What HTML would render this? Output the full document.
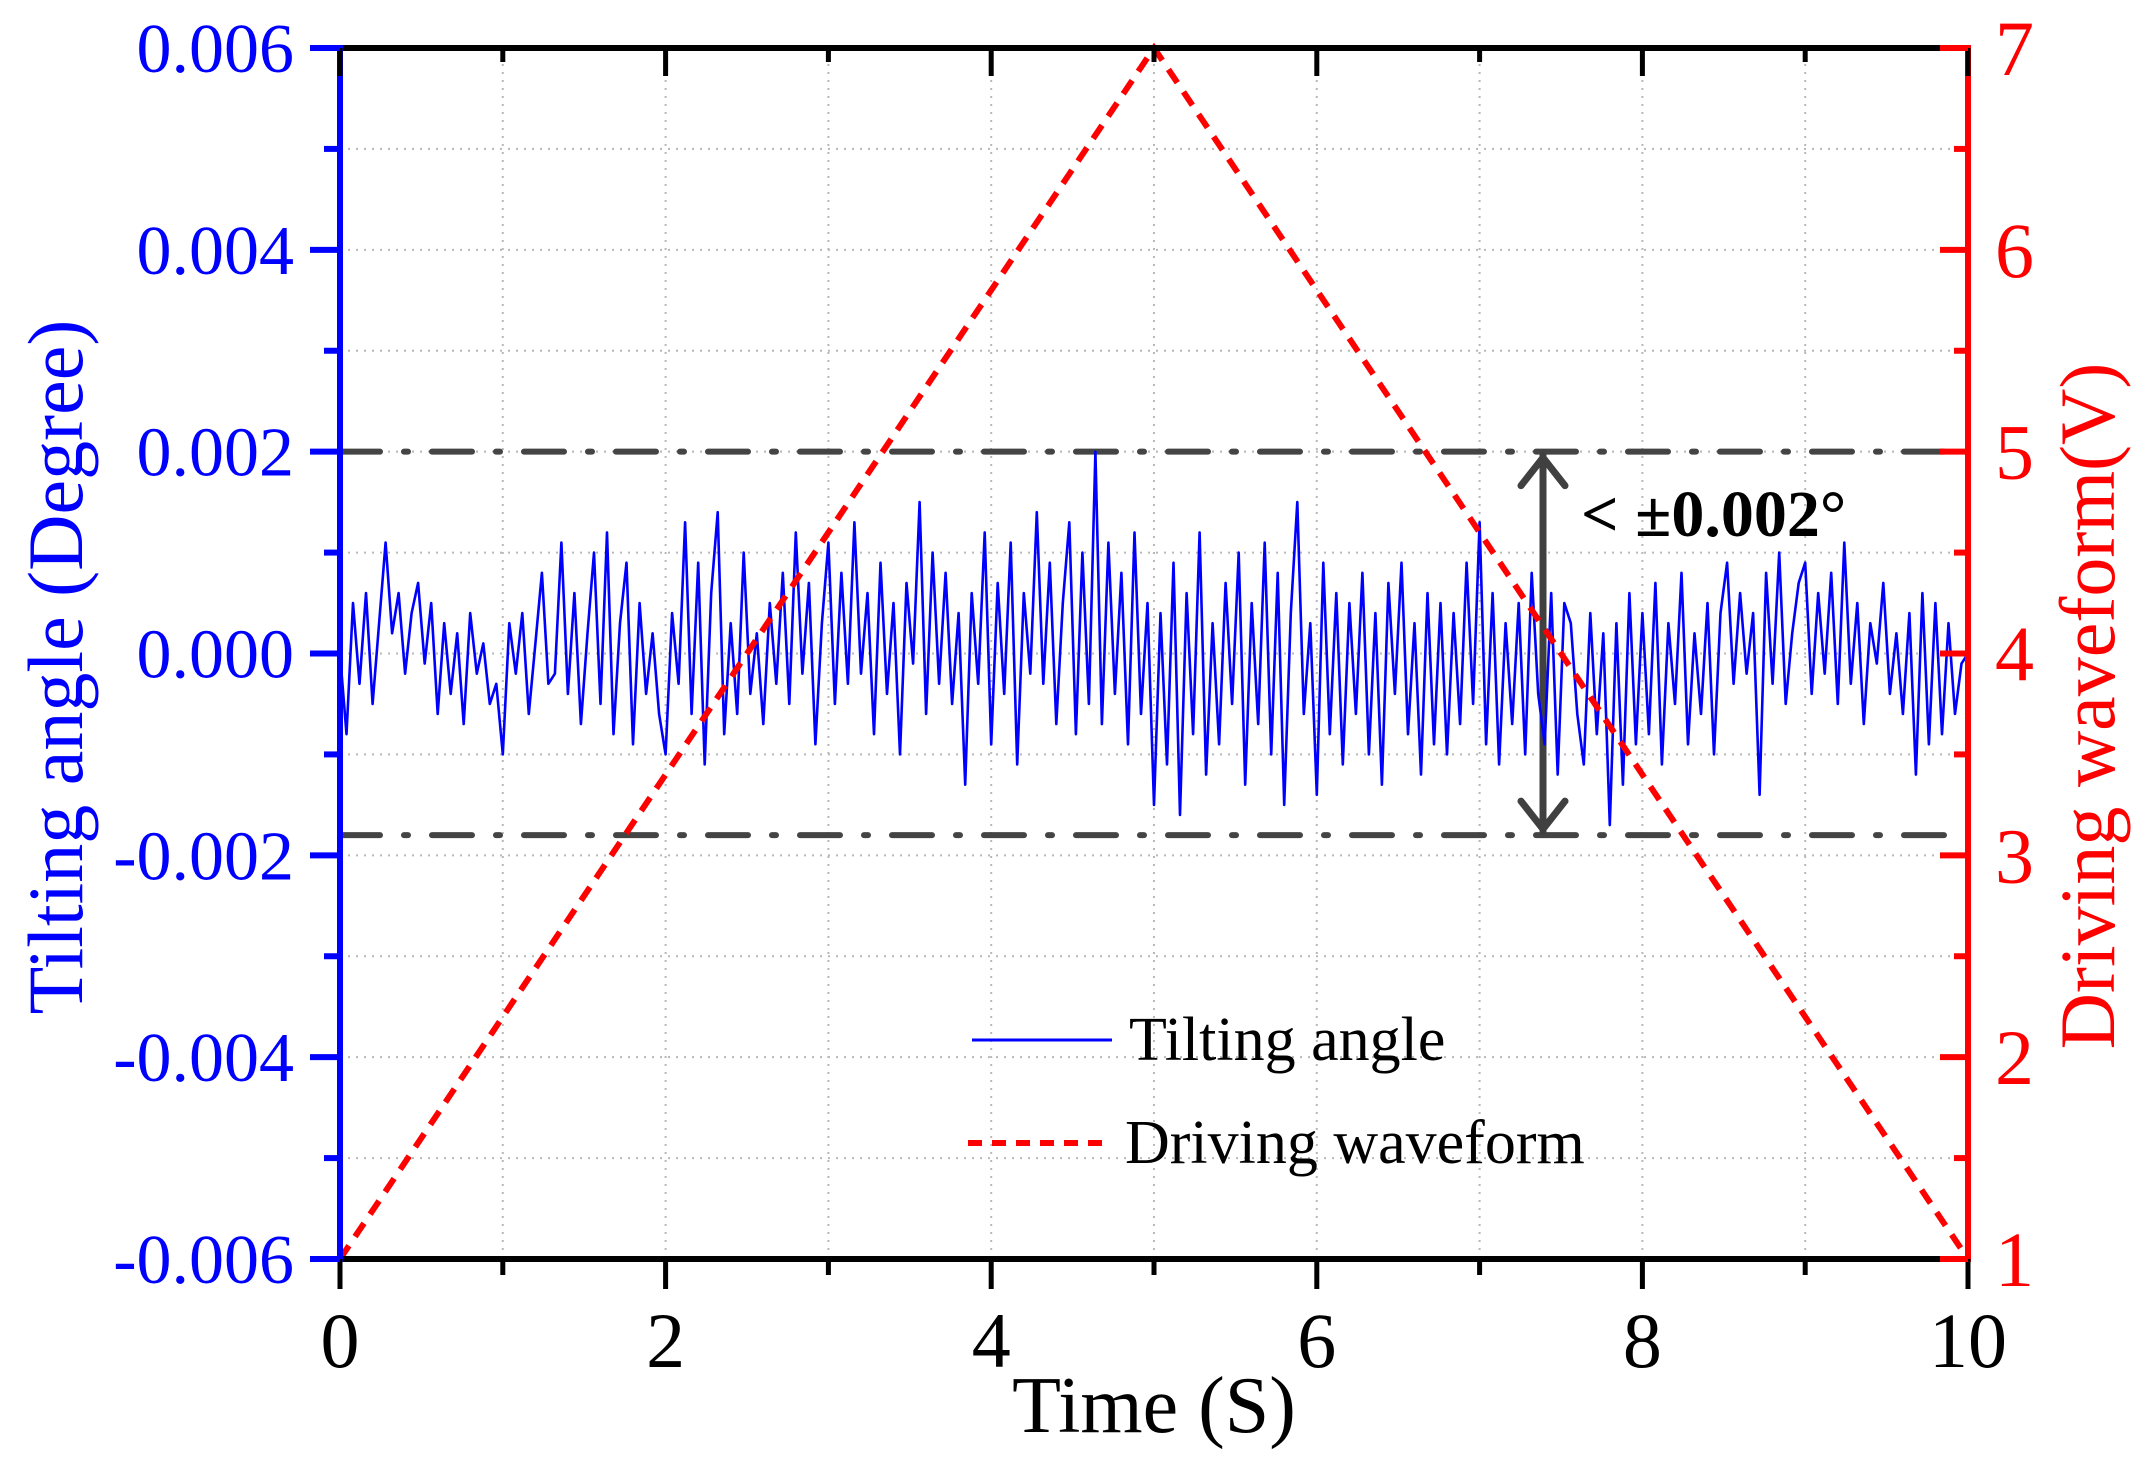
<!DOCTYPE html>
<html><head><meta charset="utf-8"><style>
html,body{margin:0;padding:0;background:#fff;}
svg{display:block;font-family:"Liberation Serif",serif;}
</style></head><body>
<svg id="chart" width="2147" height="1467" viewBox="0 0 2147 1467" xmlns="http://www.w3.org/2000/svg">
<g id="grid"></g>
<g id="guides"></g>
<g id="series"></g>
<g id="axes"></g>
<g id="labels"></g>
</svg>
<script>
const xTicks = [0, 2, 4, 6, 8, 10];
const yLeftTicks = [0.006, 0.004, 0.002, 0.000, -0.002, -0.004, -0.006];
const yLeftTickLabels = ["0.006", "0.004", "0.002", "0.000", "-0.002", "-0.004", "-0.006"];
const yRightTicks = [1, 2, 3, 4, 5, 6, 7];
const waveTimes = [0, 5, 10];
const waveVolts = [1, 7, 1];
const boundUpper = 0.002;
const boundLower = -0.0018;
const noiseStep = 0.04;
// tilting angle in units of 1e-4 degree, sampled every 0.04 s
const tiltValues = [
0,-8,5,-3,6,-5,3,11,2,6,-2,4,7,-1,5,-6,3,-4,2,-7,4,-2,1,-5,-3,
-10,3,-2,4,-6,1,8,-3,-2,11,-4,6,-7,2,10,-5,12,-8,3,9,-9,5,-4,2,-6,
-10,4,-3,13,-6,9,-11,6,14,-8,3,-6,10,-4,2,-7,5,-3,8,-5,12,-2,7,-9,3,
11,-5,8,-3,13,-2,6,-8,9,-4,5,-10,7,-1,15,-6,10,-3,8,-5,4,-13,6,-3,12,
-9,7,-4,11,-11,6,-2,14,-3,9,-7,5,13,-8,10,-5,20,-7,11,-4,8,-9,12,-6,5,
-15,4,-11,9,-16,6,-8,12,-12,3,-9,7,-5,10,-13,5,-7,11,-10,8,-15,4,15,-6,3,
-14,9,-8,6,-11,5,-6,8,-10,4,-13,7,-4,9,-8,3,-12,6,-9,5,-10,4,-7,9,-5,
13,-9,6,-11,3,-7,5,-10,8,-4,-9,6,-12,5,3,-6,-11,4,-8,2,-17,3,-13,6,-9,
4,-8,7,-11,3,-5,8,-9,2,-6,5,-10,4,9,-3,6,-2,4,-14,8,-3,10,-5,2,7,
9,-4,6,-2,8,-5,11,-3,5,-7,3,-1,7,-4,2,-6,4,-12,6,-9,5,-8,3,-6,-1,0];

const NS="http://www.w3.org/2000/svg";
const X0=340,X1=1968,Y0=48,Y1=1259;
const xS=t=>X0+(t-0)/(10-0)*(X1-X0);
const yL=v=>Y1-(v+0.006)/0.012*(Y1-Y0);
const yR=v=>Y1-(v-1)/6*(Y1-Y0);
function mk(tag,attrs,parent){const e=document.createElementNS(NS,tag);for(const k in attrs)e.setAttribute(k,attrs[k]);parent.appendChild(e);return e;}
const grid=document.getElementById('grid'),guides=document.getElementById('guides'),series=document.getElementById('series'),axes=document.getElementById('axes'),labels=document.getElementById('labels');

for(let t=1;t<10;t++){const l=mk('line',{x1:xS(t),x2:xS(t),y1:Y0,y2:Y1,stroke:'#b8b8b8','stroke-width':2,'stroke-dasharray':'2 6'},grid);

}
for(let i=-5;i<=5;i++){const v=i*0.001;const l=mk('line',{x1:X0,x2:X1,y1:yL(v),y2:yL(v),stroke:'#b8b8b8','stroke-width':2,'stroke-dasharray':'2 6'},grid);

}

[boundUpper,boundLower].forEach(v=>{const l=mk('line',{x1:X0,x2:X1,y1:yL(v),y2:yL(v),stroke:'#444','stroke-width':6,'stroke-dasharray':'40 24 4 24','stroke-linecap':'round'},guides);

});

let d='';tiltValues.forEach((v,i)=>{d+=(i?'L':'M')+xS(i*noiseStep).toFixed(1)+','+yL(v*1e-4).toFixed(1);});
const tl=mk('path',{d:d,fill:'none',stroke:'#0000ff','stroke-width':2.6,'stroke-linejoin':'round'},series);


let d2='';waveTimes.forEach((t,i)=>{d2+=(i?'L':'M')+xS(t)+','+yR(waveVolts[i]);});
const wl=mk('path',{d:d2,fill:'none',stroke:'#ff0000','stroke-width':6,'stroke-dasharray':'16 11'},series);



const ax=1543;
const ar=mk('g',{stroke:'#404040','stroke-width':7,fill:'none','stroke-linecap':'round','stroke-linejoin':'round'},guides);


mk('line',{x1:ax,x2:ax,y1:yL(boundUpper)+4,y2:yL(boundLower)-4},ar);
mk('polyline',{points:`${ax-22},${yL(boundUpper)+34} ${ax},${yL(boundUpper)+6} ${ax+22},${yL(boundUpper)+34}`},ar);
mk('polyline',{points:`${ax-22},${yL(boundLower)-34} ${ax},${yL(boundLower)-6} ${ax+22},${yL(boundLower)-34}`},ar);

const topAxis=mk('line',{x1:X0,x2:X1,y1:Y0,y2:Y0,stroke:'#000','stroke-width':6},axes);


const botAxis=mk('line',{x1:X0,x2:X1,y1:Y1,y2:Y1,stroke:'#000','stroke-width':6},axes);


const lax=mk('line',{x1:X0,x2:X0,y1:Y0-3,y2:Y1+3,stroke:'#0000ff','stroke-width':6},axes);


const rax=mk('line',{x1:X1,x2:X1,y1:Y0-3,y2:Y1+3,stroke:'#ff0000','stroke-width':6},axes);


for(let t=0;t<=10;t++){const maj=t%2===0;
mk('line',{x1:xS(t),x2:xS(t),y1:Y1,y2:Y1+(maj?30:16),stroke:'#000','stroke-width':5},axes);
mk('line',{x1:xS(t),x2:xS(t),y1:Y0,y2:Y0+(maj?28:14),stroke:'#000','stroke-width':5},axes);}
for(let i=-6;i<=6;i++){const maj=i%2===0;const y=yL(i*0.001);
mk('line',{x1:X0-(maj?30:16),x2:X0,y1:y,y2:y,stroke:'#0000ff','stroke-width':6},axes);}
for(let v=1;v<=7;v+=0.5){const maj=Number.isInteger(v);const y=yR(v);
mk('line',{x1:X1-(maj?28:14),x2:X1,y1:y,y2:y,stroke:'#ff0000','stroke-width':6},axes);}

xTicks.forEach(t=>{const e=mk('text',{x:xS(t),y:1367,'text-anchor':'middle','font-size':78,fill:'#000'},labels);e.textContent=t;

});
yLeftTicks.forEach((v,i)=>{const e=mk('text',{x:294,y:yL(v)+24,'text-anchor':'end','font-size':70,fill:'#0000ff'},labels);e.textContent=yLeftTickLabels[i];

});
yRightTicks.forEach(v=>{const e=mk('text',{x:1995,y:yR(v)+27,'text-anchor':'start','font-size':78,fill:'#ff0000'},labels);e.textContent=v;

});
</script>
<svg style="position:absolute;left:0;top:0" width="2147" height="1467">
<text x="1154" y="1432" text-anchor="middle" font-size="80" font-family="Liberation Serif, serif" fill="#000">Time (S)</text>
<text transform="translate(82,667) rotate(-90)" text-anchor="middle" font-size="78" font-family="Liberation Serif, serif" fill="#0000ff">Tilting angle (Degree)</text>
<text transform="translate(2114,706) rotate(-90)" text-anchor="middle" font-size="78" font-family="Liberation Serif, serif" fill="#ff0000">Driving waveform(V)</text>
<text x="1581" y="536" font-size="66" font-weight="bold" font-family="Liberation Serif, serif" fill="#000">&lt; ±0.002°</text>
<g>
<line x1="972" x2="1112" y1="1040" y2="1040" stroke="#0000ff" stroke-width="3"/>
<text x="1129" y="1060" font-size="62" font-family="Liberation Serif, serif" fill="#000">Tilting angle</text>
<line x1="968" x2="1112" y1="1143" y2="1143" stroke="#ff0000" stroke-width="6" stroke-dasharray="14 10"/>
<text x="1125" y="1163" font-size="62" font-family="Liberation Serif, serif" fill="#000">Driving waveform</text>
</g>
</svg>
</body></html>
